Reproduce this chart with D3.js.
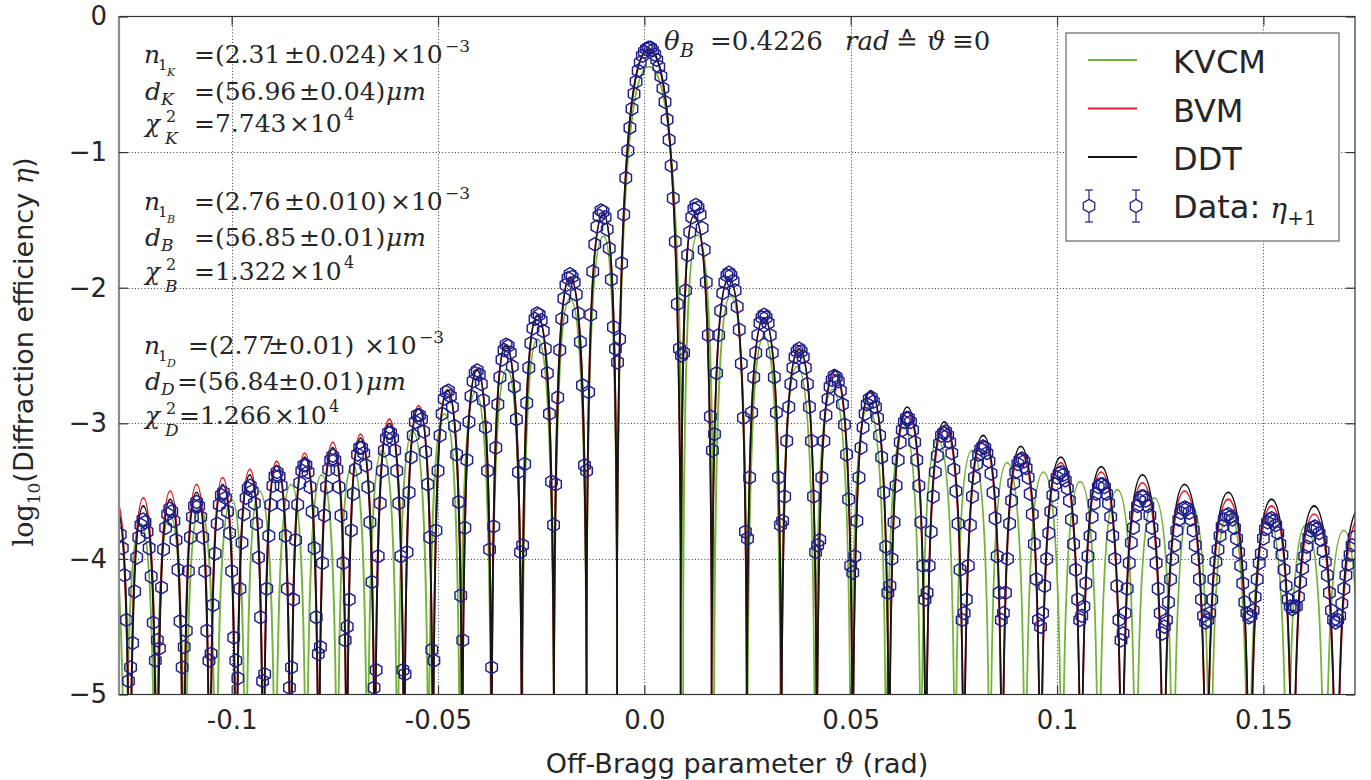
<!DOCTYPE html>
<html><head><meta charset="utf-8">
<script src="https://cdn.jsdelivr.net/npm/d3@7"></script>
<style>
body{margin:0;background:#fff;}
svg{display:block;}
</style></head>
<body><svg id="chart" width="1371" height="780"></svg>
<script>
// ---------------- axis ticks ----------------
const xTicks = [-0.1, -0.05, 0, 0.05, 0.1, 0.15];
const xTickLabels = ["-0.1", "-0.05", "0.0", "0.05", "0.1", "0.15"];
const yTicks = [0, -1, -2, -3, -4, -5];
const yTickLabels = ["0", "\u22121", "\u22122", "\u22123", "\u22124", "\u22125"];

// ---------------- model curves (lobe zeros, lobe peaks) ----------------
// DDT and BVM share lobe positions
const ddtZeros = [-0.1312,-0.1247,-0.1181,-0.1117,-0.1053,-0.0989,-0.0923,-0.0857,-0.0789,-0.0721,-0.0653,-0.0582,-0.0512,-0.0441,-0.0370,-0.0297,-0.0219,-0.0140,-0.0066,
  0.0088,0.0163,0.0248,0.0332,0.0418,0.0505,0.0593,0.0682,0.0774,0.0867,0.0960,0.1058,0.1157,0.1258,0.1362,0.1467,0.1571,0.1677,0.1784];
const ddtPeakTheta = [-0.1279,-0.1214,-0.1149,-0.1085,-0.1022,-0.0956,-0.0891,-0.0823,-0.0755,-0.0688,-0.0618,-0.0547,-0.0477,-0.0405,-0.0336,-0.0259,-0.0180,-0.0099,
  0.0011,
  0.0120,0.0205,0.0290,0.0375,0.0461,0.0548,0.0637,0.0727,0.0821,0.0912,0.1009,0.1107,0.1207,0.1309,0.1415,0.1520,0.1623,0.1731];
const ddtPeakLog = [-3.63,-3.61,-3.56,-3.51,-3.45,-3.38,-3.31,-3.25,-3.18,-3.11,-3.00,-2.89,-2.76,-2.61,-2.43,-2.21,-1.93,-1.46,
  -0.24,
  -1.47,-1.93,-2.22,-2.45,-2.61,-2.76,-2.88,-2.99,-3.09,-3.17,-3.25,-3.32,-3.38,-3.45,-3.51,-3.56,-3.61,-3.64];
const bvmPeakLog = [-3.57,-3.55,-3.50,-3.45,-3.40,-3.34,-3.28,-3.22,-3.14,-3.08,-2.97,-2.87,-2.75,-2.60,-2.42,-2.20,-1.92,-1.45,
  -0.25,
  -1.47,-1.94,-2.23,-2.46,-2.64,-2.77,-2.92,-3.03,-3.13,-3.22,-3.29,-3.36,-3.44,-3.50,-3.56,-3.61,-3.67,-3.71];
const kvcmZeros = [-0.1331,-0.1258,-0.1185,-0.1113,-0.1038,-0.0966,-0.0894,-0.0819,-0.0744,-0.0671,-0.0598,-0.0523,-0.0447,-0.0371,-0.0296,-0.0219,-0.0140,-0.0066,
  0.0094,0.0169,0.0250,0.0330,0.0413,0.0500,0.0586,0.0670,0.0753,0.0837,0.0923,0.1012,0.1101,0.1191,0.1281,0.1371,0.1464,0.1558,0.1649,0.1740];
const kvcmPeakTheta = [-0.1295,-0.1220,-0.1150,-0.1077,-0.1000,-0.0933,-0.0856,-0.0782,-0.0707,-0.0635,-0.0561,-0.0484,-0.0409,-0.0333,-0.0259,-0.0180,-0.0099,
  0.0011,
  0.0129,0.0209,0.0290,0.0370,0.0456,0.0543,0.0629,0.0711,0.0794,0.0879,0.0967,0.1056,0.1146,0.1236,0.1325,0.1416,0.1512,0.1603,0.1695];
const kvcmPeakLog = [-3.80,-3.74,-3.68,-3.62,-3.56,-3.50,-3.45,-3.38,-3.30,-3.20,-3.06,-2.93,-2.77,-2.60,-2.38,-2.08,-1.62,
  -0.37,
  -1.61,-2.06,-2.36,-2.58,-2.75,-2.88,-3.03,-3.12,-3.20,-3.29,-3.36,-3.43,-3.49,-3.55,-3.60,-3.65,-3.70,-3.75,-3.79];

// ---------------- measured data eta_{+1} ----------------
const dataTheta = [
-0.1270,-0.1265,-0.1260,-0.1255,-0.1250,
-0.1245,-0.1240,-0.1235,-0.1230,-0.1225,-0.1220,-0.1215,-0.1210,-0.1205,-0.1200,-0.1195,-0.1190,-0.1185,
-0.1180,-0.1175,-0.1170,-0.1165,-0.1160,-0.1155,-0.1150,-0.1145,-0.1140,-0.1135,-0.1130,-0.1125,-0.1120,
-0.1115,-0.1110,-0.1105,-0.1100,-0.1095,-0.1090,-0.1085,-0.1080,-0.1075,-0.1070,-0.1065,-0.1060,-0.1055,
-0.1050,-0.1045,-0.1040,-0.1035,-0.1030,-0.1025,-0.1020,-0.1015,-0.1010,-0.1005,-0.1000,-0.0995,-0.0990,
-0.0985,-0.0980,-0.0975,-0.0970,-0.0965,-0.0960,-0.0955,-0.0950,-0.0945,-0.0940,-0.0935,-0.0930,-0.0925,
-0.0920,-0.0915,-0.0910,-0.0905,-0.0900,-0.0895,-0.0890,-0.0885,-0.0880,-0.0875,-0.0870,-0.0865,-0.0860,
-0.0855,-0.0850,-0.0845,-0.0840,-0.0835,-0.0830,-0.0825,-0.0820,-0.0815,-0.0810,-0.0805,-0.0800,-0.0795,-0.0790,
-0.0785,-0.0780,-0.0775,-0.0770,-0.0765,-0.0760,-0.0755,-0.0750,-0.0745,-0.0740,-0.0735,-0.0730,-0.0725,
-0.0720,-0.0715,-0.0710,-0.0705,-0.0700,-0.0695,-0.0690,-0.0685,-0.0680,-0.0675,-0.0670,-0.0665,-0.0660,-0.0655,
-0.0650,-0.0645,-0.0640,-0.0635,-0.0630,-0.0625,-0.0620,-0.0615,-0.0610,-0.0605,-0.0600,-0.0595,-0.0590,-0.0585,
-0.0580,-0.0575,-0.0570,-0.0565,-0.0560,-0.0555,-0.0550,-0.0545,-0.0540,-0.0535,-0.0530,-0.0525,-0.0520,-0.0515,
-0.0510,-0.0505,-0.0500,-0.0495,-0.0490,-0.0485,-0.0480,-0.0475,-0.0470,-0.0465,-0.0460,-0.0455,-0.0450,-0.0445,
-0.0440,-0.0435,-0.0430,-0.0425,-0.0420,-0.0415,-0.0410,-0.0405,-0.0400,-0.0395,-0.0390,-0.0385,-0.0380,-0.0375,
-0.0370,-0.0365,-0.0360,-0.0355,-0.0350,-0.0345,-0.0340,-0.0335,-0.0330,-0.0325,-0.0320,-0.0315,-0.0310,-0.0305,-0.0300,
-0.0295,-0.0290,-0.0285,-0.0280,-0.0275,-0.0270,-0.0265,-0.0260,-0.0255,-0.0250,-0.0245,-0.0240,-0.0235,-0.0230,-0.0225,-0.0220,
-0.0215,-0.0210,-0.0205,-0.0200,-0.0195,-0.0190,-0.0185,-0.0180,-0.0175,-0.0170,-0.0165,-0.0160,-0.0155,-0.0150,-0.0145,
-0.0140,-0.0135,-0.0130,-0.0125,-0.0120,-0.0115,-0.0110,-0.0105,-0.0100,-0.0095,-0.0090,-0.0085,-0.0080,-0.0075,-0.0070,
-0.0065,-0.0060,-0.0055,-0.0050,-0.0045,-0.0040,-0.0035,-0.0030,-0.0025,-0.0020,-0.0015,-0.0010,-0.0005,0.0000,0.0005,0.0010,
0.0015,0.0020,0.0025,0.0030,0.0035,0.0040,0.0045,0.0050,0.0055,0.0060,0.0065,0.0070,0.0075,0.0080,0.0085,
0.0090,0.0095,0.0100,0.0105,0.0110,0.0115,0.0120,0.0125,0.0130,0.0135,0.0140,0.0145,0.0150,0.0155,0.0160,
0.0165,0.0170,0.0175,0.0180,0.0185,0.0190,0.0195,0.0200,0.0205,0.0210,0.0215,0.0220,0.0225,0.0230,0.0235,0.0240,0.0245,
0.0250,0.0255,0.0260,0.0265,0.0270,0.0275,0.0280,0.0285,0.0290,0.0295,0.0300,0.0305,0.0310,0.0315,0.0320,0.0325,0.0330,
0.0335,0.0340,0.0345,0.0350,0.0355,0.0360,0.0365,0.0370,0.0375,0.0380,0.0385,0.0390,0.0395,0.0400,0.0405,0.0410,0.0415,
0.0420,0.0425,0.0430,0.0435,0.0440,0.0445,0.0450,0.0455,0.0460,0.0465,0.0470,0.0475,0.0480,0.0485,0.0490,0.0495,0.0500,
0.0505,0.0510,0.0515,0.0520,0.0525,0.0530,0.0535,0.0540,0.0545,0.0550,0.0555,0.0560,0.0565,0.0570,0.0575,0.0580,0.0585,0.0590,
0.0595,0.0600,0.0605,0.0610,0.0615,0.0620,0.0625,0.0630,0.0635,0.0640,0.0645,0.0650,0.0655,0.0660,0.0665,0.0670,0.0675,0.0680,
0.0685,0.0690,0.0695,0.0700,0.0705,0.0710,0.0715,0.0720,0.0725,0.0730,0.0735,0.0740,0.0745,0.0750,0.0755,0.0760,0.0765,0.0770,
0.0775,0.0780,0.0785,0.0790,0.0795,0.0800,0.0805,0.0810,0.0815,0.0820,0.0825,0.0830,0.0835,0.0840,0.0845,0.0850,0.0855,0.0860,0.0865,
0.0870,0.0875,0.0880,0.0885,0.0890,0.0895,0.0900,0.0905,0.0910,0.0915,0.0920,0.0925,0.0930,0.0935,0.0940,0.0945,0.0950,0.0955,
0.0960,0.0965,0.0970,0.0975,0.0980,0.0985,0.0990,0.0995,0.1000,0.1005,0.1010,0.1015,0.1020,0.1025,0.1030,0.1035,0.1040,0.1045,0.1050,0.1055,
0.1060,0.1065,0.1070,0.1075,0.1080,0.1085,0.1090,0.1095,0.1100,0.1105,0.1110,0.1115,0.1120,0.1125,0.1130,0.1135,0.1140,0.1145,0.1150,0.1155,
0.1160,0.1165,0.1170,0.1175,0.1180,0.1185,0.1190,0.1195,0.1200,0.1205,0.1210,0.1215,0.1220,0.1225,0.1230,0.1235,0.1240,0.1245,0.1250,0.1255,
0.1260,0.1265,0.1270,0.1275,0.1280,0.1285,0.1290,0.1295,0.1300,0.1305,0.1310,0.1315,0.1320,0.1325,0.1330,0.1335,0.1340,0.1345,0.1350,0.1355,0.1360,
0.1365,0.1370,0.1375,0.1380,0.1385,0.1390,0.1395,0.1400,0.1405,0.1410,0.1415,0.1420,0.1425,0.1430,0.1435,0.1440,0.1445,0.1450,0.1455,0.1460,0.1465,
0.1470,0.1475,0.1480,0.1485,0.1490,0.1495,0.1500,0.1505,0.1510,0.1515,0.1520,0.1525,0.1530,0.1535,0.1540,0.1545,0.1550,0.1555,0.1560,0.1565,0.1570,
0.1575,0.1580,0.1585,0.1590,0.1595,0.1600,0.1605,0.1610,0.1615,0.1620,0.1625,0.1630,0.1635,0.1640,0.1645,0.1650,0.1655,0.1660,0.1665,0.1670,0.1675,
0.1680,0.1685,0.1690,0.1695,0.1700,0.1705,0.1710,0.1715,0.1720];
const dataLog = [
-3.82,-3.92,-4.12,-4.45,-4.90,
-4.80,-4.62,-4.24,-3.99,-3.84,-3.75,-3.71,-3.73,-3.80,-3.92,-4.13,-4.47,-4.75,
-4.60,-4.66,-4.21,-3.93,-3.77,-3.67,-3.63,-3.65,-3.72,-3.86,-4.08,-4.46,-4.80,
-4.65,-4.53,-4.09,-3.84,-3.69,-3.61,-3.58,-3.61,-3.69,-3.84,-4.09,-4.53,-4.75,
-4.70,-4.34,-3.96,-3.74,-3.60,-3.53,-3.51,-3.55,-3.65,-3.81,-4.09,-4.58,-4.75,
-4.88,-4.22,-3.88,-3.67,-3.55,-3.48,-3.46,-3.50,-3.59,-3.74,-3.99,-4.43,-4.90,
-4.85,-4.22,-3.83,-3.60,-3.46,-3.39,-3.36,-3.39,-3.46,-3.60,-3.83,-4.22,-4.95,
-4.80,-4.30,-3.86,-3.60,-3.44,-3.35,-3.31,-3.31,-3.36,-3.47,-3.65,-3.92,-4.43,-4.70,
-4.65,-4.03,-3.68,-3.47,-3.34,-3.27,-3.24,-3.27,-3.34,-3.47,-3.68,-4.03,-4.60,
-4.50,-4.30,-3.79,-3.52,-3.34,-3.23,-3.18,-3.18,-3.22,-3.31,-3.47,-3.73,-4.17,-4.95,
-4.82,-3.98,-3.59,-3.35,-3.20,-3.11,-3.07,-3.07,-3.11,-3.20,-3.35,-3.59,-3.98,-4.82,
-4.85,-3.95,-3.51,-3.25,-3.09,-2.99,-2.94,-2.94,-2.97,-3.06,-3.21,-3.45,-3.84,-4.67,
-4.75,-3.79,-3.35,-3.09,-2.93,-2.82,-2.77,-2.76,-2.80,-2.88,-3.02,-3.23,-3.58,-4.27,
-4.60,-3.77,-3.27,-2.99,-2.80,-2.69,-2.63,-2.61,-2.64,-2.71,-2.83,-3.03,-3.35,-3.93,
-4.80,-3.76,-3.18,-2.86,-2.66,-2.53,-2.46,-2.42,-2.43,-2.48,-2.58,-2.73,-2.97,-3.36,-3.95,
-3.90,-3.30,-2.85,-2.59,-2.41,-2.30,-2.23,-2.19,-2.20,-2.24,-2.32,-2.45,-2.63,-2.93,-3.43,-3.75,
-3.45,-2.81,-2.46,-2.23,-2.08,-1.98,-1.93,-1.90,-1.92,-1.96,-2.05,-2.19,-2.40,-2.72,-3.31,
-3.35,-2.77,-2.20,-1.88,-1.68,-1.55,-1.47,-1.43,-1.44,-1.48,-1.57,-1.71,-1.94,-2.29,-2.45,
-2.55,-2.38,-1.82,-1.46,-1.19,-0.99,-0.82,-0.68,-0.57,-0.48,-0.40,-0.34,-0.29,-0.26,-0.24,-0.23,
-0.23,-0.25,-0.28,-0.32,-0.37,-0.44,-0.53,-0.63,-0.76,-0.91,-1.10,-1.34,-1.66,-2.12,-2.45,
-2.50,-2.48,-2.02,-1.76,-1.59,-1.48,-1.42,-1.39,-1.41,-1.46,-1.56,-1.72,-1.96,-2.35,-2.95,
-3.20,-3.08,-2.63,-2.35,-2.17,-2.04,-1.96,-1.91,-1.89,-1.91,-1.95,-2.02,-2.14,-2.31,-2.56,-2.96,-3.80,
-3.85,-3.40,-2.92,-2.66,-2.48,-2.35,-2.26,-2.22,-2.20,-2.22,-2.26,-2.35,-2.48,-2.66,-2.92,-3.40,-3.75,
-3.72,-3.54,-3.13,-2.88,-2.71,-2.59,-2.51,-2.47,-2.45,-2.47,-2.51,-2.59,-2.71,-2.88,-3.13,-3.54,-3.95,
-3.90,-3.86,-3.40,-3.13,-2.94,-2.82,-2.73,-2.68,-2.65,-2.66,-2.69,-2.76,-2.86,-3.01,-3.23,-3.56,-4.05,
-4.10,-3.98,-3.72,-3.40,-3.18,-3.03,-2.93,-2.86,-2.82,-2.81,-2.84,-2.88,-2.96,-3.09,-3.25,-3.51,-3.91,-4.25,
-4.20,-4.00,-3.73,-3.46,-3.27,-3.14,-3.05,-2.99,-2.96,-2.96,-2.99,-3.05,-3.14,-3.27,-3.46,-3.73,-4.05,-4.30,
-4.25,-4.05,-3.80,-3.54,-3.36,-3.24,-3.15,-3.09,-3.07,-3.06,-3.09,-3.14,-3.22,-3.34,-3.50,-3.74,-4.08,-4.45,
-4.40,-4.30,-4.05,-3.75,-3.54,-3.40,-3.30,-3.23,-3.19,-3.17,-3.18,-3.22,-3.28,-3.37,-3.51,-3.70,-3.98,-4.25,-4.45,
-4.40,-4.25,-4.00,-3.74,-3.57,-3.44,-3.36,-3.30,-3.27,-3.26,-3.28,-3.33,-3.40,-3.52,-3.67,-3.89,-4.15,-4.45,
-4.50,-4.40,-4.20,-4.00,-3.81,-3.65,-3.53,-3.45,-3.40,-3.37,-3.36,-3.38,-3.42,-3.48,-3.57,-3.71,-3.89,-4.08,-4.30,-4.45,
-4.42,-4.35,-4.18,-3.98,-3.83,-3.69,-3.59,-3.52,-3.47,-3.45,-3.45,-3.47,-3.52,-3.59,-3.69,-3.83,-4.00,-4.20,-4.45,-4.60,
-4.55,-4.40,-4.22,-4.03,-3.88,-3.77,-3.68,-3.61,-3.57,-3.54,-3.54,-3.57,-3.61,-3.68,-3.77,-3.88,-4.03,-4.22,-4.40,-4.55,
-4.50,-4.45,-4.32,-4.15,-4.00,-3.90,-3.79,-3.71,-3.66,-3.63,-3.62,-3.63,-3.66,-3.71,-3.79,-3.90,-4.00,-4.15,-4.30,-4.42,-4.47,
-4.45,-4.40,-4.30,-4.15,-4.02,-3.93,-3.83,-3.76,-3.71,-3.68,-3.67,-3.69,-3.71,-3.77,-3.85,-3.95,-4.05,-4.18,-4.32,-4.40,-4.43,
-4.42,-4.38,-4.28,-4.15,-4.03,-3.96,-3.85,-3.78,-3.73,-3.71,-3.70,-3.72,-3.75,-3.81,-3.89,-3.97,-4.08,-4.20,-4.30,-4.35,-4.37,
-4.35,-4.35,-4.28,-4.17,-4.07,-3.98,-3.91,-3.84,-3.79,-3.77,-3.76,-3.78,-3.81,-3.86,-3.94,-4.02,-4.12,-4.25,-4.38,-4.45,-4.47,
-4.45,-4.42,-4.33,-4.22,-4.12,-4.04,-3.97,-3.90,-3.84];

// ---------------- fit annotations ----------------
const fitN = ["2.31", "2.76", "2.77"], fitNErr = ["0.024", "0.010", "0.01"];
const fitD = ["56.96", "56.85", "56.84"], fitDErr = ["0.04", "0.01", "0.01"];
const fitChi = ["7.743", "1.322", "1.266"], fitSub = ["K", "B", "D"];
const braggAngle = "0.4226";

// ---------------- layout ----------------
const svg = d3.select("#chart");
const L = 119, R = 1355, T = 16.5, B = 694.5;
const x = d3.scaleLinear().domain([-0.1273, 0.1722]).range([L, R]);
const y = d3.scaleLinear().domain([-5, 0]).range([B, T]);
const COL = {kvcm: "#74b43a", bvm: "#e0202a", ddt: "#141414", data: "#1f1f8c", ink: "#262626"};

svg.append("rect").attr("width", 1371).attr("height", 780).attr("fill", "#fff");
svg.append("defs").append("clipPath").attr("id", "plotClip")
  .append("rect").attr("x", L).attr("y", T).attr("width", R - L).attr("height", B - T);

// grid
const grid = svg.append("g").attr("stroke", "#3a3a3a").attr("stroke-width", 1).attr("stroke-dasharray", "1,2.2");
grid.selectAll("line.gx").data(xTicks).join("line")
  .attr("x1", d => Math.round(x(d)) + 0.5).attr("x2", d => Math.round(x(d)) + 0.5).attr("y1", T).attr("y2", B);
grid.selectAll("line.gy").data(yTicks.filter(d => d !== 0 && d !== -5)).join("line")
  .attr("y1", d => Math.round(y(d)) + 0.5).attr("y2", d => Math.round(y(d)) + 0.5).attr("x1", L).attr("x2", R);

// lobe-wise curve path
function lobesPath(zeros, peakT, peakV) {
  const p = d3.path();
  const mainIdx = peakV.indexOf(d3.max(peakV));
  for (let i = 0; i < peakT.length; i++) {
    const g = i === mainIdx ? 1.25 : 1;
    const xl = x(zeros[i]), xr = x(zeros[i + 1]), xp = x(peakT[i]), h = peakV[i];
    const wl = xp - xl, wr = xr - xp;
    p.moveTo(xl, y(-7));
    p.lineTo(xl, y(h - 3 * g));
    p.bezierCurveTo(xl + 0.06 * wl, y(h - 0.9 * g), xl + 0.35 * wl, y(h), xp, y(h));
    p.bezierCurveTo(xr - 0.35 * wr, y(h), xr - 0.06 * wr, y(h - 0.9 * g), xr, y(h - 3 * g));
    p.lineTo(xr, y(-7));
  }
  return p.toString();
}
const plot = svg.append("g").attr("clip-path", "url(#plotClip)");
plot.append("path").attr("d", lobesPath(kvcmZeros, kvcmPeakTheta, kvcmPeakLog))
  .attr("fill", "none").attr("stroke", COL.kvcm).attr("stroke-width", 1.8);
plot.append("path").attr("d", lobesPath(ddtZeros, ddtPeakTheta, bvmPeakLog))
  .attr("fill", "none").attr("stroke", COL.bvm).attr("stroke-width", 1.8);
plot.append("path").attr("d", lobesPath(ddtZeros, ddtPeakTheta, ddtPeakLog))
  .attr("fill", "none").attr("stroke", COL.ddt).attr("stroke-width", 1.8);

// hexagon marker
const hexR = 6.6;
const hexPath = d3.line()(d3.range(6).map(k => {
  const a = -Math.PI / 2 + k * Math.PI / 3;
  return [hexR * Math.cos(a), hexR * Math.sin(a)];
})) + "Z";
const pts = d3.zip(dataTheta, dataLog);
plot.append("g").selectAll("path").data(pts).join("path")
  .attr("d", hexPath)
  .attr("transform", d => `translate(${x(d[0])},${y(d[1])})`)
  .attr("fill", "none").attr("stroke", COL.data).attr("stroke-width", 1.45);

// frame
svg.append("rect").attr("x", L).attr("y", T).attr("width", R - L).attr("height", B - T)
  .attr("fill", "none").attr("stroke", "#333").attr("stroke-width", 1.2);
svg.append("line").attr("x1", L).attr("x2", L).attr("y1", T).attr("y2", B)
  .attr("stroke", "#8c8c8c").attr("stroke-width", 2.2);

// axes
const fmtX = (d) => xTickLabels[xTicks.indexOf(d)];
const fmtY = (d) => yTickLabels[yTicks.indexOf(d)];
const axB = svg.append("g").attr("transform", `translate(0,${B})`)
  .call(d3.axisBottom(x).tickValues(xTicks).tickFormat(fmtX).tickSize(-9).tickSizeOuter(0).tickPadding(16));
const axL = svg.append("g").attr("transform", `translate(${L},0)`)
  .call(d3.axisLeft(y).tickValues(yTicks).tickFormat(fmtY).tickSize(-9).tickSizeOuter(0).tickPadding(12));
const axT = svg.append("g").attr("transform", `translate(0,${T})`)
  .call(d3.axisTop(x).tickValues(xTicks).tickFormat("").tickSize(-9).tickSizeOuter(0));
const axR = svg.append("g").attr("transform", `translate(${R},0)`)
  .call(d3.axisRight(y).tickValues(yTicks).tickFormat("").tickSize(-9).tickSizeOuter(0));
[axB, axL, axT, axR].forEach(a => {
  a.select(".domain").remove();
  a.selectAll(".tick line").attr("stroke", "#333").attr("stroke-width", 1.2);
  a.selectAll("text").attr("font-family", "DejaVu Sans").attr("font-size", 26).attr("fill", COL.ink);
});

// axis titles
const xt = svg.append("text").attr("x", 737).attr("y", 773).attr("text-anchor", "middle")
  .attr("font-family", "DejaVu Sans").attr("font-size", 27).attr("fill", COL.ink);
xt.append("tspan").text("Off-Bragg parameter ");
xt.append("tspan").attr("font-family", "DejaVu Serif").attr("font-style", "italic").text("\u03d1");
xt.append("tspan").text(" (rad)");

const yt = svg.append("text").attr("transform", "translate(33,352) rotate(-90)").attr("text-anchor", "middle")
  .attr("font-family", "DejaVu Sans").attr("font-size", 27).attr("fill", COL.ink);
yt.append("tspan").attr("font-family", "DejaVu Serif").text("log");
yt.append("tspan").attr("font-family", "DejaVu Serif").attr("font-size", 17).attr("dy", 7).text("10");
yt.append("tspan").attr("dy", -7).text("(Diffraction efficiency ");
yt.append("tspan").attr("font-family", "DejaVu Serif").attr("font-style", "italic").text("\u03b7");
yt.append("tspan").text(")");

// annotation helper: each part = [text, x, baseline y, size, italic]
function rich(parts) {
  const t = svg.append("text").attr("font-family", "DejaVu Serif").attr("fill", COL.ink);
  parts.forEach(([s, px, py, fs, it]) => t.append("tspan").attr("x", px).attr("y", py)
    .attr("font-size", fs).attr("font-style", it ? "italic" : "normal").text(s));
}
function fitBlock(i, yN, yD, yC, xs) {
  rich([["n", 144, yN, 25, 1], ["1", 158, yN + 7, 15, 0], [fitSub[i], 167, yN + 13, 11, 1],
    ["=(" + fitN[i], xs.eqN, yN, 25, 0], ["\u00b1" + fitNErr[i] + ")", xs.pmN, yN, 25, 0],
    ["\u00d710", xs.tN, yN, 25, 0], ["\u22123", xs.tN + 55, yN - 11, 17, 0]]);
  rich([["d", 145, yD, 25, 1], [fitSub[i], 161, yD + 5, 17, 1],
    ["=(" + fitD[i], xs.eqD, yD, 25, 0], ["\u00b1" + fitDErr[i] + ")", xs.pmD, yD, 25, 0],
    ["\u03bcm", xs.mu, yD, 25, 1]]);
  rich([["\u03c7", 145, yC, 25, 1], ["2", 166, yC - 10, 16, 0], [fitSub[i], 165, yC + 12, 17, 1],
    ["=" + fitChi[i], xs.eqC, yC, 25, 0], ["\u00d710", xs.tC, yC, 25, 0], ["4", xs.tC + 55, yC - 12, 16, 0]]);
}
fitBlock(0, 63, 100, 132, {eqN: 194, pmN: 284, tN: 390, eqD: 194, pmD: 299, mu: 386, eqC: 194, tC: 289});
fitBlock(1, 210, 246, 280, {eqN: 194, pmN: 284, tN: 390, eqD: 194, pmD: 299, mu: 386, eqC: 194, tC: 289});
fitBlock(2, 354, 390, 424, {eqN: 188, pmN: 268, tN: 364, eqD: 177, pmD: 278, mu: 366, eqC: 179, tC: 274});

// Bragg angle
rich([["\u03b8", 664, 50, 26, 1], ["B", 680, 57, 19, 1], ["=" + braggAngle, 710, 50, 26, 0], ["rad", 845, 50, 26, 1],
  ["\u2259", 896, 50, 26, 0], ["\u03d1", 927, 50, 26, 1], ["\u22610", 952, 50, 26, 0]]);

// ---------------- legend ----------------
const legendNames = ["KVCM", "BVM", "DDT"];
const legendColors = [COL.kvcm, COL.bvm, COL.ddt];
const lg = svg.append("g");
lg.append("rect").attr("x", 1066).attr("y", 33).attr("width", 273).attr("height", 208)
  .attr("fill", "#fff").attr("stroke", "#666").attr("stroke-width", 1.2);
legendNames.forEach((n, i) => {
  const yy = 60 + i * 48.5;
  lg.append("line").attr("x1", 1088).attr("x2", 1137).attr("y1", yy).attr("y2", yy)
    .attr("stroke", legendColors[i]).attr("stroke-width", 2);
  lg.append("text").attr("x", 1173).attr("y", yy + 13).attr("font-family", "DejaVu Sans")
    .attr("font-size", 32).attr("fill", COL.ink).text(n);
});
[1089, 1136].forEach(cx => {
  const cy = 206;
  lg.append("line").attr("x1", cx).attr("x2", cx).attr("y1", cy - 16).attr("y2", cy + 16).attr("stroke", COL.data).attr("stroke-width", 1.2);
  lg.append("line").attr("x1", cx - 4).attr("x2", cx + 4).attr("y1", cy - 16).attr("y2", cy - 16).attr("stroke", COL.data).attr("stroke-width", 1.2);
  lg.append("line").attr("x1", cx - 4).attr("x2", cx + 4).attr("y1", cy + 16).attr("y2", cy + 16).attr("stroke", COL.data).attr("stroke-width", 1.2);
  lg.append("path").attr("d", hexPath).attr("transform", `translate(${cx},${cy})`)
    .attr("fill", "#fff").attr("stroke", COL.data).attr("stroke-width", 1.3);
});
const dt = lg.append("text").attr("x", 1173).attr("y", 218).attr("font-family", "DejaVu Sans")
  .attr("font-size", 32).attr("fill", COL.ink);
dt.append("tspan").text("Data: ");
dt.append("tspan").attr("font-family", "DejaVu Serif").attr("font-style", "italic").attr("font-size", 28).text("\u03b7");
dt.append("tspan").attr("font-family", "DejaVu Serif").attr("font-size", 20).attr("dy", 7).text("+1");
</script>
</body></html>
